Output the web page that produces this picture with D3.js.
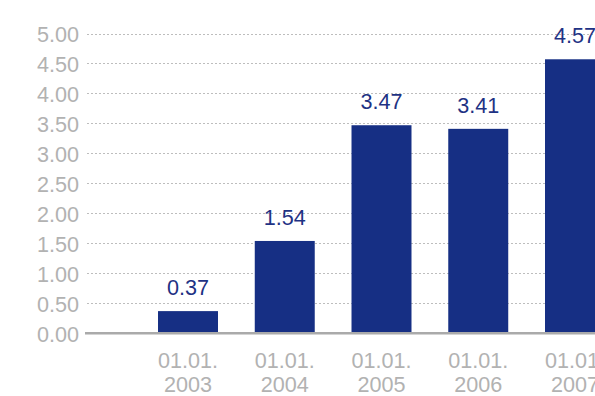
<!DOCTYPE html>
<html>
<head>
<meta charset="utf-8">
<script src="https://cdn.jsdelivr.net/npm/d3@7"></script>
<style>
  html, body { margin: 0; padding: 0; background: #fff; overflow: hidden; }
  svg { display: block; }
  text { font-family: "Liberation Sans", Arial, Helvetica, sans-serif; }
</style>
</head>
<body>
<script>
// Data
const dates = ["01.01.", "01.01.", "01.01.", "01.01.", "01.01."];
const years = ["2003", "2004", "2005", "2006", "2007"];
const values = [0.37, 1.54, 3.47, 3.41, 4.57];
const yTicks = [0, 0.5, 1, 1.5, 2, 2.5, 3, 3.5, 4, 4.5, 5];

const W = 595, H = 396;
const fontSize = 21.6;
const svg = d3.select("body").append("svg").attr("width", W).attr("height", H);

const y = d3.scaleLinear().domain([0, 5]).range([333.3, 33.5]);
const x = d3.scaleBand().domain(years).range([87, 676]).paddingInner(0.38).paddingOuter(0.734);

const axisColor = "#b2b2b2";
const barColor = "#162f84";

// Dotted gridlines
svg.append("g").selectAll("line")
  .data(yTicks.filter(d => d > 0))
  .join("line")
  .attr("x1", 87).attr("x2", W)
  .attr("y1", d => Math.round(y(d)) + 0.5).attr("y2", d => Math.round(y(d)) + 0.5)
  .attr("stroke", "#bdbdbd").attr("stroke-width", 1)
  .attr("stroke-dasharray", "2,2");

// Y axis labels
const yAxis = d3.axisLeft(y).tickValues(yTicks).tickFormat(d3.format(".2f")).tickSize(0).tickPadding(0);
const gy = svg.append("g").attr("transform", "translate(79,0)").call(yAxis);
gy.select(".domain").remove();
gy.selectAll("text")
  .attr("fill", axisColor).attr("font-size", fontSize)
  .attr("dy", "0.36em");

// Bars
svg.append("g").selectAll("rect")
  .data(values)
  .join("rect")
  .attr("x", (d, i) => x(years[i]))
  .attr("width", x.bandwidth())
  .attr("y", d => y(d))
  .attr("height", d => y(0) - y(d))
  .attr("fill", barColor);

// Value labels
svg.append("g").selectAll("text")
  .data(values)
  .join("text")
  .attr("x", (d, i) => x(years[i]) + x.bandwidth() / 2)
  .attr("y", d => y(d) - 16)
  .attr("text-anchor", "middle")
  .attr("font-size", fontSize)
  .attr("fill", "#1e3284")
  .text(d => d3.format(".2f")(d));

// Baseline
svg.append("line")
  .attr("x1", 85).attr("x2", W)
  .attr("y1", y(0)).attr("y2", y(0))
  .attr("stroke", "#aaaaaa").attr("stroke-width", 2.6);

// Category labels (two lines)
const xl = svg.append("g").selectAll("text")
  .data(years)
  .join("text")
  .attr("x", d => x(d) + x.bandwidth() / 2)
  .attr("text-anchor", "middle")
  .attr("font-size", fontSize)
  .attr("fill", axisColor);
xl.append("tspan").attr("x", d => x(d) + x.bandwidth() / 2).attr("y", 368).text((d, i) => dates[i]);
xl.append("tspan").attr("x", d => x(d) + x.bandwidth() / 2).attr("y", 392).text(d => d);
</script>
</body>
</html>
